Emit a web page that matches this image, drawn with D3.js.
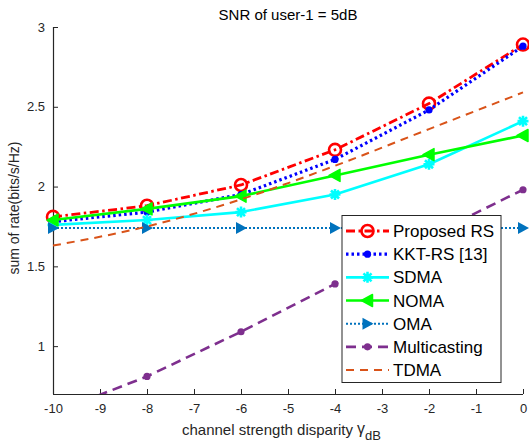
<!DOCTYPE html>
<html>
<head>
<meta charset="utf-8">
<script src="https://cdn.jsdelivr.net/npm/d3@7"></script>
<style>
  html, body { margin: 0; padding: 0; background: #fff; }
  svg { display: block; font-family: "Liberation Sans", Arial, sans-serif; }
</style>
</head>
<body>
<svg id="chart" width="529" height="447"></svg>
<script>
// ---- data ----
const xValues = [-10, -8, -6, -4, -2, 0];
const proposedRS = [1.81, 1.88, 2.01, 2.23, 2.52, 2.89];
const kktRS = [1.78, 1.84, 1.95, 2.17, 2.48, 2.88];
const sdma = [1.76, 1.79, 1.84, 1.95, 2.14, 2.41];
const noma = [1.79, 1.86, 1.94, 2.07, 2.20, 2.32];
const oma = [1.74, 1.74, 1.74, 1.74, 1.74, 1.74];
const multicasting = [0.58, 0.81, 1.09, 1.39, 1.69, 1.98];
const tdma = [1.63, 1.75, 1.92, 2.13, 2.36, 2.59];
const seriesNames = ["Proposed RS", "KKT-RS [13]", "SDMA", "NOMA", "OMA", "Multicasting", "TDMA"];
const xTicks = [-10, -9, -8, -7, -6, -5, -4, -3, -2, -1, 0];
const yTicks = [1, 1.5, 2, 2.5, 3];
const titleText = "SNR of user-1 = 5dB";
const xLabelText = "channel strength disparity";
const yLabelText = "sum of rate(bits/s/Hz)";

// ---- styles ----
const styles = [
  { name: seriesNames[0], values: proposedRS, color: "#ff0000", width: 2.8, dash: "9,3.5,2.5,3.5", marker: "circle" },
  { name: seriesNames[1], values: kktRS, color: "#0000ff", width: 3.2, dash: "2.5,3", marker: "dot" },
  { name: seriesNames[2], values: sdma, color: "#00ffff", width: 2.6, dash: null, marker: "star" },
  { name: seriesNames[3], values: noma, color: "#00ff00", width: 2.6, dash: null, marker: "left" },
  { name: seriesNames[4], values: oma, color: "#0072BD", width: 2, dash: "2,2", marker: "right" },
  { name: seriesNames[5], values: multicasting, color: "#7E2F8E", width: 2.6, dash: "10,6", marker: "dot" },
  { name: seriesNames[6], values: tdma, color: "#D95319", width: 2, dash: "8,6", marker: null }
];

const svg = d3.select("#chart");
const axisColor = "#262626";
const mLeft = 53, mRight = 523, mTop = 27, mBottom = 394;

const x = d3.scaleLinear().domain([-10, 0]).range([mLeft, mRight]);
const y = d3.scaleLinear().domain([0.7, 3]).range([mBottom, mTop]);

svg.append("rect").attr("width", 529).attr("height", 447).attr("fill", "#fff");

svg.append("defs").append("clipPath").attr("id", "clip")
  .append("rect").attr("x", mLeft - 8).attr("y", mTop - 10).attr("width", mRight - mLeft + 16).attr("height", mBottom - mTop + 10);

// axes
const xAxis = d3.axisBottom(x).tickValues(xTicks).tickSize(-5).tickPadding(10).tickFormat(d => String(d));
const gx = svg.append("g").attr("transform", `translate(0,${mBottom})`).call(xAxis);
const yAxis = d3.axisLeft(y).tickValues(yTicks).tickSize(-5).tickPadding(8).tickFormat(d => String(d));
const gy = svg.append("g").attr("transform", `translate(${mLeft},0)`).call(yAxis);
[gx, gy].forEach(g => {
  g.select(".domain").attr("stroke", axisColor).attr("stroke-width", 1.2);
  g.selectAll(".tick line").attr("stroke", axisColor).attr("stroke-width", 1);
  g.selectAll(".tick text").attr("fill", axisColor).attr("font-size", 13)
    .attr("font-family", "'Liberation Sans', Arial, sans-serif");
});
gx.select(".domain").attr("d", `M${mLeft},0.5H${mRight}`);
gy.select(".domain").attr("d", `M0.5,${mBottom}V${mTop}`);

// marker drawing
function drawMarker(g, type, color, cx, cy) {
  if (type === "circle") {
    g.append("circle").attr("cx", cx).attr("cy", cy).attr("r", 6)
      .attr("fill", "none").attr("stroke", color).attr("stroke-width", 2.6);
  } else if (type === "dot") {
    g.append("circle").attr("cx", cx).attr("cy", cy).attr("r", 3.6).attr("fill", color);
  } else if (type === "star") {
    const s = 5.5, d = 4;
    g.append("path").attr("d",
      `M${cx - s},${cy}H${cx + s}M${cx},${cy - s}V${cy + s}M${cx - d},${cy - d}L${cx + d},${cy + d}M${cx - d},${cy + d}L${cx + d},${cy - d}`)
      .attr("stroke", color).attr("stroke-width", 2.6).attr("fill", "none");
  } else if (type === "left") {
    g.append("path").attr("d", `M${cx - 6},${cy}L${cx + 5},${cy - 6}L${cx + 5},${cy + 6}Z`)
      .attr("fill", color).attr("stroke", color).attr("stroke-width", 1.5).attr("stroke-linejoin", "round");
  } else if (type === "right") {
    g.append("path").attr("d", `M${cx + 6},${cy}L${cx - 5},${cy - 6}L${cx - 5},${cy + 6}Z`)
      .attr("fill", color);
  }
}

const line = d3.line().x((d, i) => x(xValues[i])).y(d => y(d));
const tdmaLine = d3.line().x((d, i) => x(xValues[i])).y(d => y(d)).curve(d3.curveMonotoneX);

const plot = svg.append("g").attr("clip-path", "url(#clip)");
styles.forEach(s => {
  const g = plot.append("g");
  g.append("path").datum(s.values)
    .attr("d", s.marker ? line : tdmaLine)
    .attr("fill", "none").attr("stroke", s.color).attr("stroke-width", s.width)
    .attr("stroke-dasharray", s.dash).attr("stroke-linejoin", "round");
  if (s.marker) {
    s.values.forEach((v, i) => {
      if (v >= 0.7) drawMarker(g, s.marker, s.color, x(xValues[i]), y(v));
    });
  }
});

// title
svg.append("text").attr("x", (mLeft + mRight) / 2).attr("y", 20).attr("text-anchor", "middle")
  .attr("font-size", 15).attr("fill", "#000").text(titleText);

// x label
const xl = svg.append("text").attr("x", 182).attr("y", 435).attr("font-size", 15).attr("fill", axisColor);
xl.append("tspan").text(xLabelText + "  ");
xl.append("tspan").attr("font-size", 16).attr("dy", -1).text("γ");
xl.append("tspan").attr("font-size", 13).attr("dy", 6).text("dB");

// y label
svg.append("text").attr("transform", `translate(19,${208}) rotate(-90)`).attr("text-anchor", "middle")
  .attr("font-size", 14).attr("fill", axisColor).text(yLabelText);

// legend
const lg = svg.append("g");
lg.append("rect").attr("x", 342).attr("y", 215.5).attr("width", 159).attr("height", 167)
  .attr("fill", "#fff").attr("stroke", axisColor).attr("stroke-width", 1);
const rowY = d3.scaleLinear().domain([0, 6]).range([231, 370]);
styles.forEach((s, i) => {
  const cy = rowY(i);
  lg.append("line").attr("x1", 346).attr("x2", 389).attr("y1", cy).attr("y2", cy)
    .attr("stroke", s.color).attr("stroke-width", s.width).attr("stroke-dasharray", s.dash);
  if (s.marker) drawMarker(lg, s.marker, s.color, 367.5, cy);
  lg.append("text").attr("x", 393).attr("y", cy + 6).attr("font-size", 17).attr("fill", "#000").text(s.name);
});
</script>
</body>
</html>
